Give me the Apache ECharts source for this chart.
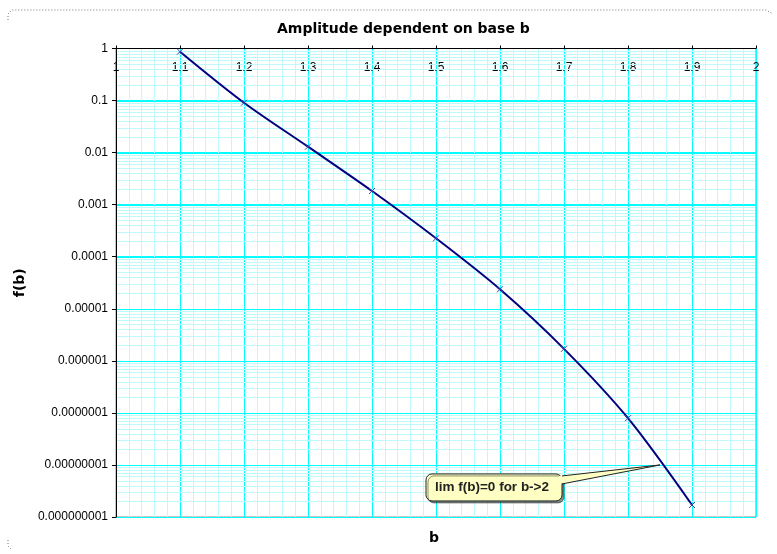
<!DOCTYPE html>
<html>
<head>
<meta charset="utf-8">
<script src="https://cdn.jsdelivr.net/npm/echarts@6/dist/echarts.min.js"></script>
<style>
  html, body { margin: 0; padding: 0; background: #fff; }
  #main { width: 777px; height: 554px; }
</style>
</head>
<body>
<div id="main"></div>
<script>
// base b and amplitude f(b)
var bValues = [1.1, 1.2, 1.3, 1.4, 1.5, 1.6, 1.7, 1.8, 1.9];
var fValues = [0.87, 0.091, 0.013, 0.00183, 0.000226, 0.0000237, 0.0000017, 0.000000079, 0.0000000017];
var decades = [1e-8, 1e-7, 1e-6, 1e-5, 1e-4, 1e-3, 1e-2, 1e-1];
var noteText = 'lim f(b)=0 for b->2';
var noteAt = [1.85, 1e-8];

// minor log lines 2..9 in every decade
var minorY = [];
for (var e = -9; e < 0; e++) {
    for (var m = 2; m <= 9; m++) minorY.push(m * Math.pow(10, e));
}

var majorColor = '#00ffff',
    minorColor = '#bff9f9';

function decimalLabel(v) {
    var k = Math.round(-Math.log(v) / Math.LN10);
    if (k <= 0) return '1';
    var s = '0.';
    for (var i = 1; i < k; i++) s += '0';
    return s + '1';
}

var chart = echarts.init(document.getElementById('main'));

var option = {
    animation: false,
    title: {
        text: 'Amplitude dependent on base b',
        left: 272,
        top: 17,
        textStyle: { fontFamily: 'DejaVu Sans', fontSize: 14, fontWeight: 'bold', color: '#000' }
    },
    grid: {
        left: 116, right: 21, top: 48.5, bottom: 37,
        show: true, borderColor: '#8c8c8c', borderWidth: 1, backgroundColor: '#fff'
    },
    xAxis: {
        type: 'value',
        position: 'top',
        min: 1, max: 2, interval: 0.1,
        axisLine: { show: true, lineStyle: { color: '#000', width: 1 } },
        axisTick: { show: true, length: 3, lineStyle: { color: '#000' } },
        axisLabel: {
            inside: true, margin: 13, showMinLabel: true, showMaxLabel: true,
            fontFamily: 'Liberation Sans', fontSize: 12, color: '#000',
            formatter: function (v) { return +v.toFixed(1) + ''; }
        },
        splitLine: { show: true, lineStyle: { color: majorColor, width: 1 } },
        minorTick: { show: false, splitNumber: 5 },
        minorSplitLine: { show: true, lineStyle: { color: minorColor, width: 1 } }
    },
    yAxis: {
        type: 'log',
        min: 1e-9, max: 1,
        name: 'f(b)',
        nameLocation: 'middle',
        nameGap: 78,
        nameRotate: 90,
        nameTextStyle: { fontFamily: 'DejaVu Sans', fontSize: 14, fontWeight: 'bold', color: '#000' },
        axisLine: { show: true, lineStyle: { color: '#000', width: 1 } },
        axisTick: { show: true, length: 4, lineStyle: { color: '#000' } },
        axisLabel: {
            margin: 8, fontFamily: 'Liberation Sans', fontSize: 12, color: '#000',
            formatter: decimalLabel
        },
        splitLine: { show: true, lineStyle: { color: majorColor, width: 1 } }
    },
    series: [{
        // minor horizontal grid lines
        type: 'custom',
        z: 1,
        data: minorY,
        encode: { y: 0 },
        renderItem: function (params, api) {
            var p = api.coord([1, api.value(0)]);
            var q = api.coord([2, api.value(0)]);
            var y = Math.round(p[1]) + 0.5;
            return {
                type: 'line',
                shape: { x1: p[0] + 1, y1: y, x2: q[0] - 1, y2: y },
                style: { stroke: minorColor, lineWidth: 1 }
            };
        }
    }, {
        type: 'line',
        z: 5,
        smooth: 0.3,
        data: bValues.map(function (b, i) { return [b, fValues[i]]; }),
        lineStyle: { color: '#000080', width: 2 },
        symbol: 'path://M0,0L10,10M10,0L0,10',
        symbolSize: 6,
        itemStyle: { color: '#4040b0', borderColor: '#4040b0', borderWidth: 1 }
    }]
};

chart.setOption(option);

// decade lines laid over the minor ones, placed through the axis scale
var graphics = decades.map(function (d) {
    var p = chart.convertToPixel({ gridIndex: 0 }, [1, d]);
    var q = chart.convertToPixel({ gridIndex: 0 }, [2, d]);
    var y = Math.round(p[1]) + 0.5;
    return {
        type: 'line',
        silent: true,
        z: 4,
        shape: { x1: p[0] + 1, y1: y, x2: q[0] - 1, y2: y },
        style: { stroke: majorColor, lineWidth: 1 }
    };
});

// the b label, the dotted outer frame and the callout
var tip = chart.convertToPixel({ gridIndex: 0 }, noteAt);
var bx = tip[0] - 234, by = tip[1] + 9, bw = 136, bh = 27;
var fill = '#ffffc4', edge = '#222';

graphics = graphics.concat([{
    type: 'text',
    x: 429, y: 531,
    style: { text: 'b', font: 'bold 14px "DejaVu Sans"', fill: '#000' }
}, {
    type: 'polyline',
    silent: true,
    shape: { points: [[8, 20], [8, 14], [12, 10], [766, 10], [773, 14]] },
    style: { stroke: '#777', lineWidth: 1, lineDash: [1, 2], fill: null }
}, {
    type: 'polyline',
    silent: true,
    shape: { points: [[8, 540], [8, 546], [12, 550]] },
    style: { stroke: '#777', lineWidth: 1, lineDash: [1, 2], fill: null }
}, {
    type: 'rect',
    z: 100,
    shape: { x: bx, y: by, width: bw, height: bh, r: 6 },
    style: {
        fill: fill, stroke: edge, lineWidth: 1,
        shadowColor: 'rgba(0,0,0,0.45)', shadowOffsetX: 2, shadowOffsetY: 2, shadowBlur: 0
    }
}, {
    type: 'polygon',
    z: 101,
    shape: { points: [[bx + bw - 3, by + 2], [tip[0], tip[1]], [bx + bw - 3, by + 10]] },
    style: { fill: fill, stroke: null }
}, {
    type: 'polyline',
    z: 102,
    shape: { points: [[bx + bw, by + 2], [tip[0], tip[1]], [bx + bw, by + 10]] },
    style: { stroke: edge, lineWidth: 1, fill: null }
}, {
    type: 'text',
    z: 103,
    x: bx + 9, y: by + bh / 2,
    style: {
        text: noteText, font: 'bold 13.5px "Liberation Sans"', fill: '#222',
        verticalAlign: 'middle', textAlign: 'left'
    }
}]);

chart.setOption({ graphic: graphics });
</script>
</body>
</html>
